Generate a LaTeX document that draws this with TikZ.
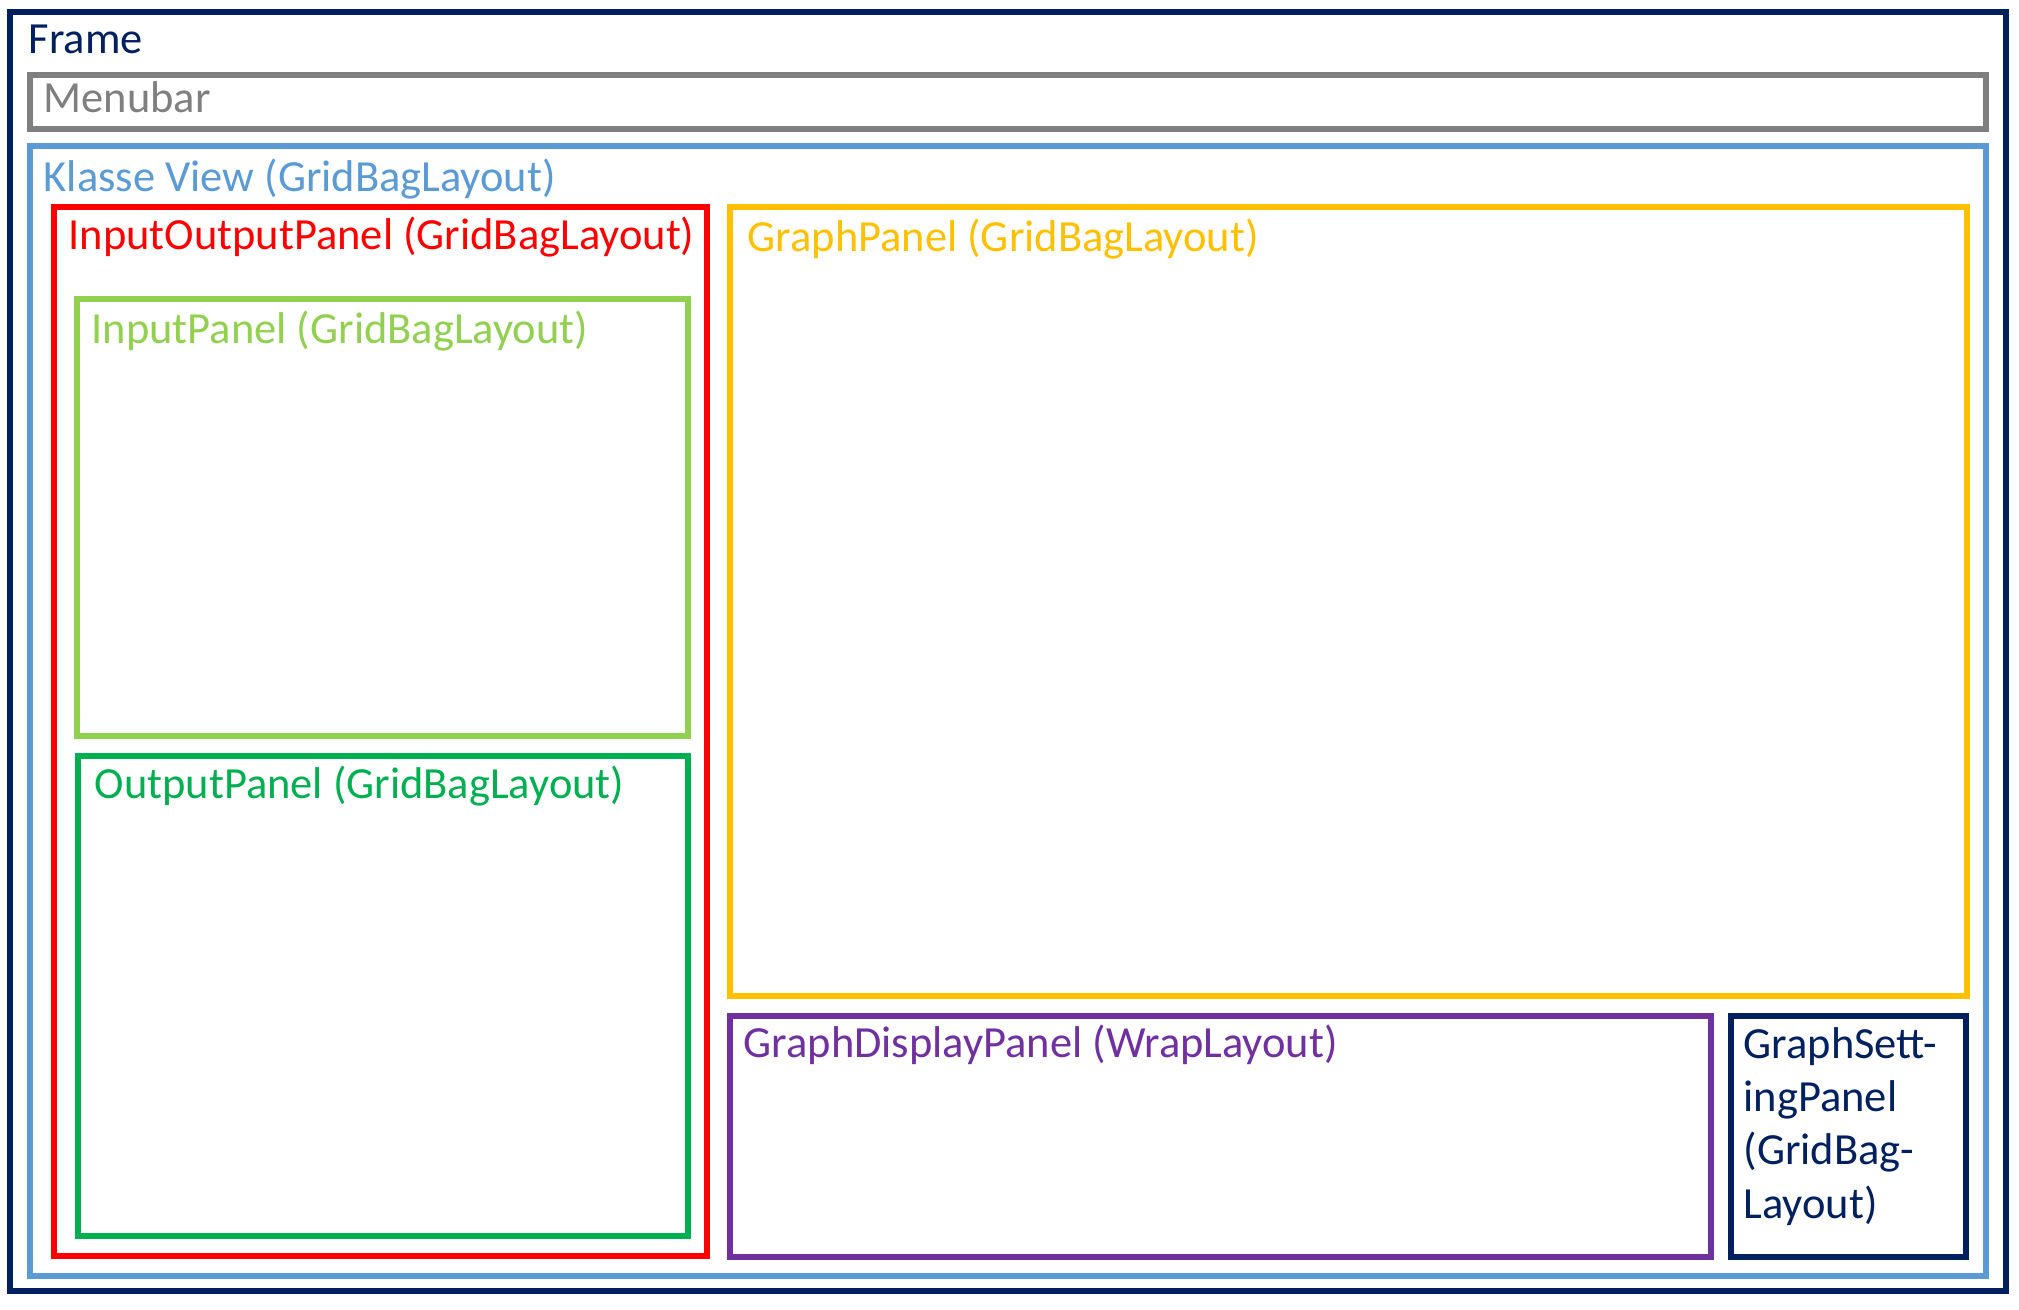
\documentclass[tikz,border=0pt]{standalone}
\usepackage{fontspec}
\setmainfont{Carlito}
\definecolor{cnavy}{HTML}{002060}
\definecolor{cgray}{HTML}{7F7F7F}
\definecolor{cblue}{HTML}{5B9BD5}
\definecolor{cred}{HTML}{FF0000}
\definecolor{clgreen}{HTML}{92D050}
\definecolor{cgreen}{HTML}{00B050}
\definecolor{cyellow}{HTML}{FFC000}
\definecolor{cpurple}{HTML}{7030A0}
\tikzset{
  panel/.style={draw=#1, line width=0.06cm},
  lbl/.style={text=#1, anchor=base west, inner sep=0pt, font=\fontsize{12.65}{15.16}\selectfont, align=left},
}
\begin{document}
\begin{tikzpicture}[x=0.01cm,y=-0.01cm]
\useasboundingbox (0,0) rectangle (2019,1309);
\fill[white] (0,0) rectangle (2019,1309);
% panels
\draw[panel=cnavy]   (10,12)    rectangle (2006,1291);
\draw[panel=cgray]   (30,75)    rectangle (1986,129);
\draw[panel=cblue]   (30,146)   rectangle (1986,1276);
\draw[panel=cred]    (54,207)   rectangle (707,1256);
\draw[panel=clgreen] (77,299)   rectangle (688,736);
\draw[panel=cgreen]  (78,756)   rectangle (688,1236);
\draw[panel=cyellow] (730,207)  rectangle (1967,996);
\draw[panel=cpurple] (730,1016) rectangle (1711,1257);
\draw[panel=cnavy]   (1731,1016) rectangle (1966,1257);
% labels
\node[lbl=cnavy]   (tframe)  at (28,54)    {Frame};
\node[lbl=cgray]   (tmenu)   at (43,112)   {Menubar};
\node[lbl=cblue]   (tview)   at (43,191)   {Klasse View (GridBagLayout)};
\node[lbl=cred]    (tio)     at (68,249)   {InputOutputPanel (GridBagLayout)};
\node[lbl=cyellow] (tgraph)  at (747,251)  {GraphPanel (GridBagLayout)};
\node[lbl=clgreen] (tin)     at (91,343)   {InputPanel (GridBagLayout)};
\node[lbl=cgreen]  (tout)    at (94,798)   {OutputPanel (GridBagLayout)};
\node[lbl=cpurple] (tdisp)   at (743,1057) {GraphDisplayPanel (WrapLayout)};
\node[lbl=cnavy]   (tset)    at (1743,1218) {GraphSett-\\ingPanel\\(GridBag-\\Layout)};
\end{tikzpicture}
\end{document}
